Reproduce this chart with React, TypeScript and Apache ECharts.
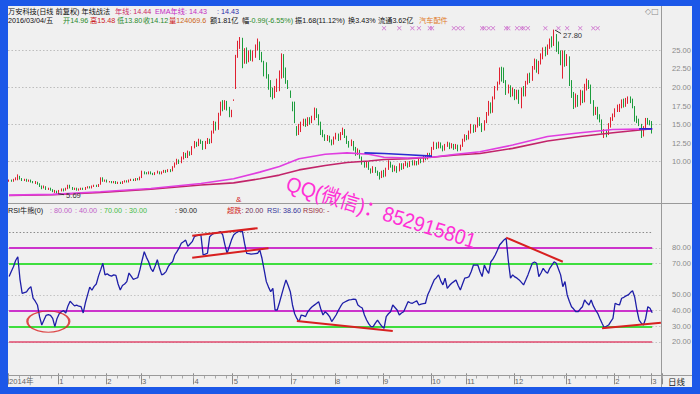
import React, { useEffect, useRef } from 'react';
import * as echarts from 'echarts';

const CAT_COUNT = 300;
const monthTickIdx = [0, 23, 45, 61, 85, 103, 130, 150, 172, 194, 210, 232, 256, 278, 295];
const monthNames = ['2014年', '1', '2', '3', '4', '5', '7', '8', '9', '10', '11', '12', '1', '2', '3'];

// [open, close, low, high]
const candles: number[][] = [
  [7.4,7.5,7.3,7.6],[7.5,7.4,7.3,7.6],[7.4,7.6,7.3,7.7],[7.6,7.7,7.5,7.9],[7.6,8.1,7.5,8.3],
  [8.0,7.7,7.6,8.1],[7.7,7.5,7.4,7.8],[7.5,7.6,7.4,7.7],[7.6,7.4,7.3,7.7],[7.4,7.5,7.3,7.6],
  [7.5,7.3,7.2,7.6],[7.3,7.2,7.1,7.4],[7.2,7.3,7.0,7.4],[7.2,7.0,6.9,7.3],[7.0,6.7,6.6,7.1],
  [6.7,6.5,6.3,6.8],[6.5,6.6,6.4,6.8],[6.6,6.3,6.2,6.7],[6.3,6.4,6.2,6.5],[6.4,6.2,6.1,6.5],
  [6.2,6.0,5.9,6.3],[6.0,6.1,5.8,6.2],[6.0,5.9,5.69,6.1],[5.9,6.1,5.8,6.2],[6.1,6.3,6.0,6.4],
  [6.3,6.2,6.0,6.4],[6.2,6.4,6.1,6.5],[6.4,6.8,6.3,6.9],[6.8,6.5,6.4,6.9],[6.5,6.3,6.2,6.6],
  [6.3,6.4,6.2,6.5],[6.4,6.2,6.1,6.5],[6.2,6.3,6.1,6.4],[6.3,6.4,6.2,6.5],[6.4,6.3,6.2,6.5],
  [6.3,6.5,6.2,6.6],[6.5,6.6,6.4,6.7],[6.6,6.5,6.4,6.7],[6.5,6.7,6.4,6.8],[6.7,6.8,6.6,6.9],
  [6.8,6.7,6.6,6.9],[6.7,6.9,6.6,7.0],[7.0,7.8,6.9,7.9],[7.8,7.4,7.3,7.9],[7.4,7.5,7.3,7.6],
  [7.5,7.3,7.2,7.6],[7.3,7.35,7.2,7.4],[7.3,7.2,7.1,7.4],[7.2,7.3,7.1,7.4],[7.3,7.1,7.0,7.4],
  [7.1,7.2,7.0,7.3],[7.2,7.1,7.0,7.3],[7.1,7.3,7.0,7.4],[7.3,7.4,7.2,7.5],[7.4,7.3,7.2,7.5],
  [7.3,7.5,7.2,7.6],[7.5,7.6,7.4,7.7],[7.6,7.5,7.4,7.7],[7.5,7.7,7.4,7.8],[7.7,7.6,7.5,7.8],
  [7.6,7.9,7.5,8.0],[7.9,8.6,7.8,8.8],[8.6,8.5,8.3,8.7],[8.5,8.4,8.3,8.6],[8.4,8.6,8.3,8.7],
  [8.6,8.4,8.3,8.7],[8.4,8.3,8.2,8.5],[8.3,8.5,8.2,8.6],[8.5,8.6,8.4,8.8],[8.6,8.4,8.3,8.7],
  [8.4,8.6,8.3,8.7],[8.6,8.8,8.5,8.9],[8.8,8.7,8.5,8.9],[8.7,8.9,8.6,9.0],[8.9,8.8,8.6,9.0],
  [8.8,9.3,8.7,9.4],[9.3,9.8,9.2,9.9],[9.8,10.2,9.6,10.4],[10.2,9.9,9.7,10.3],[9.9,10.5,9.8,10.7],
  [10.5,11.0,10.3,11.3],[11.0,10.6,10.5,11.2],[10.6,11.3,10.5,11.5],[11.3,11.0,10.8,11.4],[11.0,11.9,10.9,12.1],
  [11.9,12.5,11.8,12.8],[12.5,12.2,12.0,12.7],[12.2,12.9,12.1,13.1],[12.9,12.6,12.4,13.0],[12.6,11.8,11.6,12.8],
  [11.8,12.6,11.7,12.8],[12.6,13.0,12.4,13.2],[13.0,12.6,12.4,13.1],[12.6,14.0,12.5,14.2],[14.0,15.2,13.8,15.5],
  [15.2,14.4,14.2,15.4],[14.4,16.4,14.3,16.6],[16.4,17.8,16.2,18.1],[17.8,17.2,16.8,18.3],[17.2,18.0,17.0,18.3],
  [18.0,17.2,16.9,18.2],[17.2,16.2,16.0,17.4],[16.2,16.8,16.0,17.0],[18.3,18.3,18.2,18.4],[19.9,24.3,19.8,24.4],
  [24.3,25.9,24.0,26.3],[25.6,26.6,25.2,26.8],[26.5,22.8,22.6,26.7],[23.4,25.0,23.2,25.3],[25.2,23.4,23.2,25.4],
  [23.6,24.8,23.4,25.0],[24.8,23.8,23.6,25.1],[23.7,24.5,23.5,25.0],[24.4,25.5,24.0,25.8],[25.3,26.2,25.0,26.6],
  [26.0,24.0,23.7,26.2],[24.0,23.6,23.4,24.8],[23.5,22.0,21.5,23.6],[22.0,21.4,21.2,23.4],[21.5,20.0,19.7,21.8],
  [20.2,19.0,18.7,21.0],[19.2,18.8,18.4,20.0],[18.8,20.0,18.6,20.2],[19.6,21.0,19.4,21.2],[20.0,22.0,19.5,22.3],
  [21.5,24.3,21.2,24.6],[24.3,21.5,21.3,24.5],[22.5,20.8,20.5,22.7],[20.8,20.2,19.8,21.0],[19.5,18.8,18.6,19.6],
  [18.0,17.0,16.8,18.1],[18.0,15.3,15.2,18.1],[14.5,13.7,13.5,14.8],[13.8,14.8,13.6,15.1],[14.3,15.1,14.0,15.4],
  [15.0,15.6,14.8,15.8],[15.6,15.0,14.7,15.8],[15.0,15.8,14.8,16.0],[15.8,15.2,15.0,16.0],[15.4,15.9,15.2,16.2],
  [15.8,17.0,15.6,17.3],[17.0,16.2,15.9,17.2],[16.2,15.2,14.9,16.4],[15.2,14.0,13.6,15.4],[14.0,13.5,13.3,14.3],
  [13.5,13.0,12.8,13.7],[13.0,13.4,12.8,13.6],[13.2,12.9,12.6,13.5],[12.9,12.5,12.2,13.0],[12.5,13.2,12.3,13.4],
  [13.2,13.6,13.0,13.9],[13.6,13.0,12.8,13.8],[13.0,13.8,12.9,14.0],[13.8,14.3,13.6,14.6],[14.2,13.4,13.2,14.4],
  [13.4,12.6,12.4,13.5],[12.6,12.2,11.9,12.8],[12.3,12.8,12.1,13.0],[12.6,11.8,11.5,12.8],[11.8,11.0,10.8,12.0],
  [11.0,11.6,10.9,11.8],[11.5,10.6,10.4,11.6],[10.6,9.8,9.6,10.7],[9.8,9.4,9.2,10.0],[9.4,9.9,9.2,10.1],
  [9.9,9.1,8.9,10.0],[9.0,8.6,8.4,9.1],[8.6,9.2,8.5,9.4],[9.2,8.7,8.5,9.3],[8.6,8.3,8.1,8.8],
  [8.4,8.0,7.6,8.6],[8.0,8.6,7.8,8.8],[8.6,8.2,7.9,8.9],[8.2,9.0,8.0,9.2],[9.0,9.9,8.9,10.2],
  [9.8,9.4,9.2,10.0],[9.4,8.8,8.6,9.6],[8.8,9.3,8.7,9.5],[9.2,8.7,8.5,9.4],[8.8,9.6,8.7,9.8],
  [9.6,9.1,8.9,9.8],[9.1,9.6,9.0,9.8],[9.6,9.8,9.4,10.1],[9.8,9.4,9.2,9.9],[9.4,9.9,9.3,10.1],
  [9.9,9.6,9.5,10.2],[9.6,10.0,9.5,10.2],[10.0,9.7,9.5,10.1],[9.7,10.2,9.6,10.4],[10.2,10.0,9.8,10.4],
  [10.0,10.6,9.9,10.8],[10.6,10.4,10.2,10.9],[10.4,11.0,10.3,11.2],[11.0,10.8,10.6,11.2],[10.8,11.8,10.7,12.0],
  [11.8,12.4,11.6,12.7],[12.4,11.9,11.7,12.6],[11.9,12.5,11.8,12.7],[12.5,12.0,11.8,12.6],[12.0,11.6,11.4,12.2],
  [11.6,12.2,11.5,12.4],[12.2,12.5,12.0,12.7],[12.5,11.9,11.7,12.6],[11.9,12.3,11.8,12.5],[12.3,11.8,11.6,12.4],
  [11.8,12.2,11.7,12.4],[12.2,11.6,11.4,12.3],[11.6,12.1,11.5,12.3],[12.1,12.9,12.0,13.1],[12.9,13.5,12.7,13.7],
  [13.4,13.1,12.9,13.6],[13.1,14.0,13.0,14.2],[14.0,14.9,13.8,15.1],[14.8,14.2,13.9,15.0],[14.2,14.8,14.0,15.0],
  [14.8,15.7,14.6,16.0],[15.7,15.0,14.8,16.0],[15.0,14.3,14.0,15.2],[14.3,15.4,14.2,15.6],[15.4,16.4,15.2,16.7],
  [16.4,17.9,16.2,18.2],[17.9,16.8,16.5,18.0],[16.8,18.6,16.6,18.8],[18.6,19.8,18.4,20.2],[19.8,20.5,19.6,20.8],
  [20.6,22.4,20.4,22.7],[22.6,21.0,20.8,22.8],[22.5,20.8,20.6,22.7],[20.8,19.4,19.0,21.0],[19.4,20.1,19.2,20.4],
  [20.1,19.0,18.7,20.3],[19.0,19.8,18.8,20.0],[19.6,18.6,18.3,19.8],[18.6,19.5,18.4,19.7],[19.5,18.0,17.8,19.7],
  [17.4,19.8,17.2,20.0],[19.8,19.2,18.8,20.2],[19.2,20.6,18.8,20.9],[20.6,21.7,20.4,21.9],[21.7,21.0,20.6,22.0],
  [21.0,22.6,20.9,22.9],[22.6,23.6,22.4,23.9],[23.6,22.4,22.0,23.8],[22.4,23.4,21.8,23.6],[23.4,24.4,23.1,24.6],
  [24.4,25.2,23.8,25.4],[25.2,24.6,24.2,25.5],[24.6,25.6,24.4,25.8],[25.6,26.4,25.2,26.6],[26.4,25.8,25.4,26.9],
  [25.9,27.3,25.6,27.8],[27.0,25.2,24.8,27.2],[25.8,24.7,24.5,26.2],[24.7,23.2,23.0,25.0],[21.4,24.8,21.2,25.0],
  [24.6,23.4,22.8,25.0],[23.4,24.2,22.9,24.5],[24.0,20.6,20.2,24.2],[20.6,19.0,18.6,21.0],[19.0,17.6,17.1,19.4],
  [17.6,18.8,17.3,19.2],[18.8,17.8,17.4,19.0],[17.8,19.4,17.6,19.7],[19.4,18.2,17.9,19.6],[18.2,20.2,18.0,20.5],
  [19.8,20.9,19.6,21.2],[20.9,20.2,19.8,21.0],[20.2,18.0,17.8,20.4],[18.0,16.6,16.2,18.3],[16.6,17.2,16.3,17.4],
  [17.2,16.0,15.7,17.4],[16.2,15.5,15.3,16.4],[15.5,14.2,13.8,15.7],[13.4,14.1,13.2,14.4],[14.1,13.6,13.3,14.3],
  [13.8,15.0,13.6,15.2],[15.0,15.8,14.6,16.0],[15.8,16.3,15.5,16.5],[16.2,17.0,16.0,17.2],[17.0,17.5,16.7,17.7],
  [17.0,17.6,16.7,17.8],[17.6,18.2,17.2,18.4],[18.2,17.6,17.3,18.5],[17.6,18.4,17.4,18.6],[18.0,18.6,17.8,18.8],
  [18.6,18.3,17.9,18.8],[18.3,17.4,17.2,18.5],[17.4,15.8,15.4,17.5],[15.8,15.6,15.2,16.2],[15.6,15.1,14.8,15.8],
  [15.0,13.6,13.2,15.1],[13.6,14.5,13.4,14.8],[14.6,15.6,14.4,15.9],[15.6,15.3,15.0,15.9],[15.3,15.11,14.9,15.6],
  [14.96,14.12,13.80,15.48]
];

const rsi = [
  61.7,65,68,72,74.4,60,51,51.5,52,54,
  55.3,48,46,43.6,36,30.8,34,37,37.5,37,
  35,29.8,35,38,39.3,40,38.5,43,46,44.5,
  43,43.5,42.8,42.5,38.5,45,50,55,53,55.5,
  57,62,66,70.2,62.8,63.5,62.5,62,62.8,62.5,
  57,53.2,56,57,58.5,64,62,60,60.5,61,
  66,72,77.6,74,71.2,67,64.9,68.5,72.5,67,
  62.8,63.5,64.9,68,70,71.2,75.5,77.6,80,83,
  84,85,81,82.5,84,87.2,87.8,88,88.2,75.5,
  76,76.6,87.2,88.5,89.4,89.8,90,90.4,88.3,82,
  76.6,80.8,85,88.3,89.5,90.4,90.6,90.8,83,76.6,
  76.3,76,76.2,76.4,76.6,78.7,73.4,66,58.5,55,
  52.1,54.2,40.4,40.4,45,50,55,59.6,56,52.1,
  43.6,38,35,33,37.2,36.8,36.2,39.3,41,42.5,
  43.5,44.5,45.7,41,37.2,39.3,38,36.2,33,35,
  37.2,40,42.5,44.7,45.5,46.2,46.8,47,47.4,47.2,
  43.6,42.5,41.7,37.2,34,31.5,29.8,29.8,32,34,
  31.9,30,28.7,36.2,38,39.3,43.6,42,40.4,37.2,
  38.5,39.3,42.5,45.7,45,44.7,45.5,46.2,43.6,44.2,
  44.5,44.7,50,53,56.4,59.6,61,62.8,59,56.4,
  60.7,54.2,56,57.5,58.5,59.6,56,53.2,57,60.7,
  61,61.7,65,69.1,69,69.1,65,61.7,69.1,66,
  63.8,71.2,73,75.5,78.5,81.9,83.5,85.1,86.2,72,
  60.7,62.8,61.5,60.7,59.6,58,56.4,59.5,62.8,66.5,
  70.2,71,70.2,61.7,64,67,65,63.8,67,69,
  71.2,70.2,66.5,62.8,55.3,58.5,50,46,42.5,41,
  39.3,39.3,41,42.5,46.8,45,43.6,46.8,43,40.4,
  38.3,35,31.9,29.1,30,30.8,33,35,44.7,44,
  43.6,47.9,48.5,49.4,50,51.5,52.7,48.5,40.4,34,
  32,30.8,35,42.5,41.5,38.6
];

// moving-average lines read at sample bars
const maIdx = [0, 20, 42, 65, 88, 103, 115, 124, 133, 145, 155, 165, 172, 183, 194, 205, 216, 231, 247, 262, 277, 295];
const emaYear = [5.5, 5.6, 5.95, 6.4, 7.06, 7.7, 8.6, 9.35, 10.4, 11.0, 11.2, 11.0, 10.6, 10.5, 10.6, 11.0, 11.35, 12.25, 13.4, 13.9, 14.35, 14.43];
const maYear = [5.45, 5.55, 5.85, 6.3, 6.86, 7.15, 7.7, 8.2, 8.9, 9.5, 9.9, 10.1, 10.3, 10.4, 10.6, 10.9, 11.1, 11.8, 12.8, 13.4, 13.9, 14.44];
const blueIdxA = [163, 172, 183, 194];
const blueValA = [11.2, 11.1, 10.95, 10.75];
const blueIdxB = [289, 295];
const blueValB = [14.43, 14.43];

const markerIdx = [172, 179, 185, 188, 193, 194, 204, 206, 208, 217, 218, 220, 222, 228, 229, 233, 235, 236, 238, 246, 252, 256, 262, 268, 270];
const markerLevel = 28;

const priceGridValues = [10, 15, 20, 25];
const rsiLabelValues = [20, 30, 40, 50, 70, 80];
const rsiLevels = [80, 40, 70, 30, 20, 90];
const trendLines = [
  [84, 87.8, 114, 92.6],
  [84, 73.8, 119, 79.8],
  [132, 33.4, 176, 27.0],
  [228, 86.6, 254, 71.2],
  [272, 28.7, 299, 32.3],
];
const ovalCenter = [18, 33];
const peakPoint = [250, 27.8];
const lowPoint = [22, 5.69];

const FONT = '"Liberation Sans", Arial, "Noto Sans CJK SC", sans-serif';
const FS = 7.2;
const AXFS = 7.6;

function sparse(idx: number[], vals: number[]) {
  const arr: (number | null)[] = new Array(candles.length).fill(null);
  idx.forEach((i, k) => { arr[i] = vals[k]; });
  return arr;
}

function txt(id: string, x: number, y: number, text: string, fill: string, size = FS) {
  return {
    id, type: 'text', x, y, z: 50, silent: true,
    style: { text, fill, fontSize: size, fontFamily: FONT, align: 'left', verticalAlign: 'middle', textAlign: 'left', textVerticalAlign: 'middle' },
  };
}
function rtxt(id: string, x: number, y: number, parts: [string, string][]) {
  const rich: any = {};
  let text = '';
  parts.forEach(([t, c], k) => {
    rich['p' + k] = { fill: c, fontSize: FS, fontFamily: FONT };
    text += '{p' + k + '|' + t + '}';
  });
  return {
    id, type: 'text', x, y, z: 50, silent: true,
    style: { text, rich, fontSize: FS, fontFamily: FONT, align: 'left', verticalAlign: 'middle', textAlign: 'left', textVerticalAlign: 'middle' },
  };
}
function hline(id: string, x1: number, x2: number, y: number, color: string) {
  return { id, type: 'line', z: 40, silent: true, shape: { x1, y1: y, x2, y2: y }, style: { stroke: color, lineWidth: 1 } };
}
function vline(id: string, x: number, y1: number, y2: number, color: string) {
  return { id, type: 'line', z: 40, silent: true, shape: { x1: x, y1, x2: x, y2 }, style: { stroke: color, lineWidth: 1 } };
}

const GREEN = '#2a8a2a';
const RED = '#cc2222';
const BLUE_FRAME = '#1c58e8';

function baseGraphics() {
  return [
    // header line 1
    txt('h1a', 8, 11, '万安科技(日线 前复权) 年线战法', '#111'),
    txt('h1b', 115, 11, '年线: 14.44', '#cc2a66'),
    txt('h1c', 155, 11, 'EMA年线: 14.43', '#c42ac4'),
    txt('h1d', 217, 11, ': 14.43', '#2a2aa8'),
    // header line 2
    txt('h2a', 8, 20.5, '2016/03/04/五', '#111'),
    txt('h2b', 63, 20.5, '开14.96', GREEN),
    txt('h2c', 90, 20.5, '高15.48', RED),
    txt('h2d', 117, 20.5, '低13.80', GREEN),
    txt('h2e', 143, 20.5, '收14.12', GREEN),
    rtxt('h2f', 169, 20.5, [['量', RED], ['124069.6', '#cc6622']]),
    txt('h2g', 210, 20.5, '额1.81亿', '#111'),
    rtxt('h2h', 242, 20.5, [['幅', '#111'], ['-0.99(-6.55%)', GREEN]]),
    txt('h2i', 295, 20.5, '振1.68(11.12%)', '#111'),
    txt('h2j', 348, 20.5, '换3.43%', '#111'),
    txt('h2k', 378, 20.5, '流通3.62亿', '#111'),
    txt('h2l', 419, 20.5, '汽车配件', '#e07a28'),
    { id: 'icons', type: 'text', x: 645, y: 11, z: 50, silent: true, style: { text: '◇□', fill: '#8a8a8a', fontSize: 8, fontFamily: '"DejaVu Sans"', verticalAlign: 'middle', textVerticalAlign: 'middle' } },
    // RSI header
    txt('r1', 8, 210, 'RSI牛熊(0)', '#111'),
    txt('r2', 50, 210, ': 80.00', '#c060c8'),
    txt('r3', 75, 210, ': 40.00', '#c060c8'),
    txt('r4', 100, 210, ': 70.00', '#44bb44'),
    txt('r5', 125, 210, ': 30.00', '#44bb44'),
    txt('r6', 175, 210, ': 90.00', '#222'),
    rtxt('r7', 227, 210, [['超跌', '#d02020'], [': 20.00', '#6a3058']]),
    txt('r8', 267, 210, 'RSI: 38.60', '#34349a'),
    txt('r9', 303, 210, 'RSI90: -', '#9a3040'),
    txt('amp', 236, 199, '&', '#d02020', 8),
    txt('dayline', 668, 382, '日线', '#222', 8.5),
    // frame lines
    vline('fv', 661.5, 6, 387, '#9a9a9a'),
    hline('fh1', 8, 692, 203.5, '#9a9a9a'),
    hline('fh2', 8, 692, 375.5, '#9a9a9a'),
    // watermark
    {
      id: 'wm', type: 'text', x: 287, y: 183, rotation: -0.3, scaleX: 0.92, z: 60, silent: true,
      style: { text: 'QQ(微信)：852915801', fill: '#ff2fd6', fontSize: 21, fontFamily: FONT, align: 'left', verticalAlign: 'middle', textAlign: 'left', textVerticalAlign: 'middle' },
    },
    // blue window frame
    { id: 'bt', type: 'rect', z: 200, silent: true, shape: { x: 0, y: 0, width: 700, height: 6 }, style: { fill: BLUE_FRAME } },
    { id: 'bb', type: 'rect', z: 200, silent: true, shape: { x: 0, y: 387, width: 700, height: 7 }, style: { fill: BLUE_FRAME } },
    { id: 'bl', type: 'rect', z: 200, silent: true, shape: { x: 0, y: 0, width: 8, height: 394 }, style: { fill: BLUE_FRAME } },
    { id: 'br', type: 'rect', z: 200, silent: true, shape: { x: 692, y: 0, width: 8, height: 394 }, style: { fill: BLUE_FRAME } },
  ];
}

function buildOption() {
  const cats = Array.from({ length: CAT_COUNT }, (_, i) => String(i));
  const lastIdx = candles.length - 1;
  const monthInterval = (i: number) => monthTickIdx.indexOf(i) >= 0;
  const levelStyle: Record<number, any> = {
    80: { color: '#cc33cc', width: 2, type: 'solid' },
    40: { color: '#cc33cc', width: 2, type: 'solid' },
    70: { color: '#3ede3e', width: 2, type: 'solid' },
    30: { color: '#3ede3e', width: 2, type: 'solid' },
    20: { color: '#e04a6e', width: 1.5, type: 'solid' },
    90: { color: '#8a8a8a', width: 1, type: [1.5, 2] },
  };
  return {
    animation: false,
    backgroundColor: '#f0f0f0',
    grid: [
      { left: 8, top: 31.85, width: 654, height: 167 },
      { left: 8, top: 216.6, width: 654, height: 156.7 },
    ],
    xAxis: [
      { type: 'category', gridIndex: 0, data: cats, boundaryGap: true, show: false },
      {
        type: 'category', gridIndex: 1, data: cats, boundaryGap: true, position: 'bottom', offset: 2.2,
        axisLine: { show: false },
        axisTick: { show: true, interval: monthInterval, length: 11, lineStyle: { color: '#8c8c8c' } },
        axisLabel: {
          interval: monthInterval, align: 'left', margin: 2, fontSize: AXFS, color: '#666', fontFamily: FONT,
          formatter: (_v: string, i: number) => { const k = monthTickIdx.indexOf(i); return k >= 0 ? monthNames[k] : ''; },
        },
        splitLine: { show: false },
      },
      {
        type: 'category', gridIndex: 1, data: cats, boundaryGap: true, position: 'bottom', offset: 2.2,
        axisLine: { show: false },
        axisTick: { show: true, interval: 4, length: 3, lineStyle: { color: '#a8a8a8' } },
        axisLabel: { show: false }, splitLine: { show: false },
      },
    ],
    yAxis: [
      {
        type: 'value', gridIndex: 0, position: 'right', min: 5, max: 27.5, interval: 2.5,
        axisLine: { show: false }, axisTick: { show: false }, splitLine: { show: false },
        axisLabel: {
          margin: 10, fontSize: AXFS, color: '#8a8a8a', fontFamily: FONT, align: 'left',
          formatter: (v: number) => (v >= 10 && v <= 25 ? v.toFixed(2) : ''),
        },
      },
      {
        type: 'value', gridIndex: 1, position: 'right', min: 0, max: 100, interval: 10,
        axisLine: { show: false }, axisTick: { show: false }, splitLine: { show: false },
        axisLabel: {
          margin: 10, fontSize: AXFS, color: '#8a8a8a', fontFamily: FONT, align: 'left',
          formatter: (v: number) => (rsiLabelValues.indexOf(v) >= 0 ? v.toFixed(2) : ''),
        },
      },
    ],
    series: [
      {
        type: 'candlestick', xAxisIndex: 0, yAxisIndex: 0, data: candles, barWidth: 1.2, clip: false, z: 3,
        itemStyle: { color: '#e02030', color0: '#1c9c3c', borderColor: '#e02030', borderColor0: '#1c9c3c', borderWidth: 1 },
        markLine: {
          silent: true, z: 1, symbol: ['none', 'none'], label: { show: false },
          lineStyle: { color: '#bdbdbd', type: [1.5, 2], width: 1 },
          data: priceGridValues.map((v) => ({ yAxis: v })),
        },
      },
      {
        type: 'line', xAxisIndex: 0, yAxisIndex: 0, data: sparse(maIdx, maYear), connectNulls: true, symbol: 'none', z: 4,
        lineStyle: { color: '#c2246a', width: 1.6 },
      },
      {
        type: 'line', xAxisIndex: 0, yAxisIndex: 0, data: sparse(maIdx, emaYear), connectNulls: true, symbol: 'none', z: 4,
        lineStyle: { color: '#e03ee0', width: 1.6 },
      },
      {
        type: 'line', xAxisIndex: 0, yAxisIndex: 0, data: sparse(blueIdxA, blueValA), connectNulls: true, symbol: 'none', z: 5,
        lineStyle: { color: '#2a2ad0', width: 1.6 },
      },
      {
        type: 'line', xAxisIndex: 0, yAxisIndex: 0, data: sparse(blueIdxB, blueValB), connectNulls: true, symbol: 'none', z: 5,
        lineStyle: { color: '#2a2ad0', width: 1.6 },
      },
      {
        type: 'scatter', xAxisIndex: 0, yAxisIndex: 0, clip: false, z: 5,
        data: markerIdx.map((i) => [i, markerLevel]),
        symbol: 'path://M0,1L1,0L5,4L9,0L10,1L6,5L10,9L9,10L5,6L1,10L0,9L4,5Z', symbolSize: 4.5,
        itemStyle: { color: '#c040c0' },
      },
      {
        type: 'line', xAxisIndex: 1, yAxisIndex: 1, data: rsi, symbol: 'none', z: 1,
        lineStyle: { opacity: 0 },
        markLine: {
          silent: true, z: 1, symbol: ['none', 'none'], label: { show: false },
          data: [
            ...rsiLabelValues.map((v) => ({ yAxis: v, lineStyle: { color: '#c4c4c4', type: [1.5, 2], width: 1 } })),
            ...rsiLevels.map((v) => [{ coord: [0, v], lineStyle: levelStyle[v] }, { coord: [lastIdx, v] }]),
          ],
        },
      },
      {
        type: 'line', xAxisIndex: 1, yAxisIndex: 1, data: rsi, symbol: 'none', z: 3,
        lineStyle: { color: '#1e1ea8', width: 1.3 },
        markLine: {
          silent: true, z: 6, symbol: ['none', 'none'], label: { show: false },
          lineStyle: { color: '#d82020', width: 2, type: 'solid' },
          data: trendLines.map(([a, b, c, d]) => [{ coord: [a, b] }, { coord: [c, d] }]),
        },
      },
      {
        type: 'scatter', xAxisIndex: 1, yAxisIndex: 1, z: 6, data: [ovalCenter],
        symbol: 'circle', symbolSize: [42, 21],
        itemStyle: { color: 'rgba(0,0,0,0)', borderColor: '#d82020', borderWidth: 1.6 },
      },
    ],
    graphic: baseGraphics(),
  };
}

export default function App() {
  const ref = useRef<HTMLDivElement>(null);
  useEffect(() => {
    if (!ref.current) return;
    const chart = echarts.init(ref.current, null, { renderer: 'svg', width: 700, height: 394 });
    chart.setOption(buildOption() as any);
    const pk = chart.convertToPixel({ gridIndex: 0 }, peakPoint) as number[];
    const lw = chart.convertToPixel({ gridIndex: 0 }, lowPoint) as number[];
    const annots: any[] = [];
    if (pk && lw) {
      annots.push(
        { id: 'pkl', type: 'line', z: 50, silent: true, shape: { x1: pk[0] + 1, y1: pk[1] + 0.5, x2: pk[0] + 7, y2: pk[1] + 4 }, style: { stroke: '#333', lineWidth: 1 } },
        txt('pkt', pk[0] + 9, pk[1] + 5.5, peakPoint[1].toFixed(2), '#333', AXFS),
        { id: 'lwl', type: 'line', z: 50, silent: true, shape: { x1: lw[0] + 1, y1: lw[1], x2: lw[0] + 7, y2: lw[1] + 1 }, style: { stroke: '#333', lineWidth: 1 } },
        txt('lwt', lw[0] + 9, lw[1] + 1.5, lowPoint[1].toFixed(2), '#333', AXFS),
      );
    }
    chart.setOption({ graphic: [...baseGraphics(), ...annots] } as any);
    return () => chart.dispose();
  }, []);
  return <div ref={ref} style={{ position: 'fixed', left: 0, top: 0, width: 700, height: 394 }} />;
}
